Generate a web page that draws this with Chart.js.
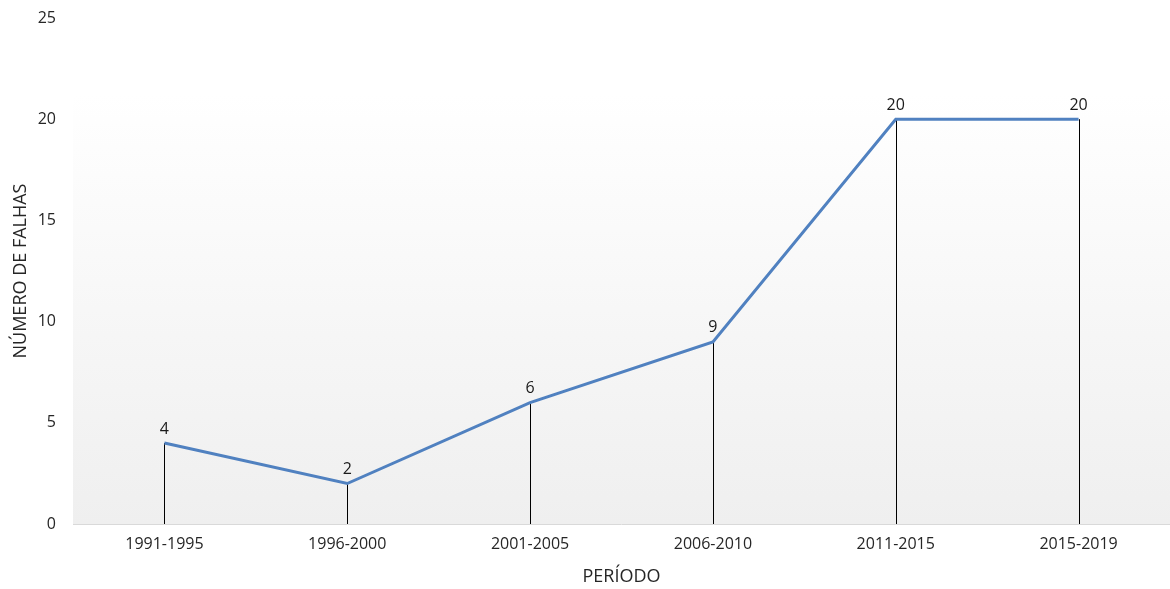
<!DOCTYPE html>
<html>
<head>
<meta charset="utf-8">
<script src="https://cdn.jsdelivr.net/npm/chart.js@4/dist/chart.umd.min.js"></script>
<style>
  html, body { margin: 0; padding: 0; background: #fff; }
  #wrap { width: 1170px; height: 589px; position: relative; }
</style>
</head>
<body>
<div id="wrap"><canvas id="c" width="1170" height="589"></canvas></div>
<script>
const periods = ['1991-1995', '1996-2000', '2001-2005', '2006-2010', '2011-2015', '2015-2019'];
const failures = [4, 2, 6, 9, 20, 20];
const yTicks = [0, 5, 10, 15, 20, 25];

const FONT = '"Open Sans", "DejaVu Sans", sans-serif';
const TEXT = '#262626';

// plot background: white fading to light grey towards the baseline
const areaGradient = {
  id: 'areaGradient',
  beforeDraw(chart) {
    const { ctx, chartArea: a } = chart;
    const g = ctx.createLinearGradient(0, a.top, 0, a.bottom);
    g.addColorStop(0, '#ffffff');
    g.addColorStop(0.15, '#ffffff');
    g.addColorStop(1, '#efefef');
    ctx.save();
    ctx.fillStyle = g;
    ctx.fillRect(a.left, a.top, a.right - a.left, a.bottom - a.top);
    ctx.restore();
  }
};

// vertical drop lines from each point to the axis
const dropLines = {
  id: 'dropLines',
  beforeDatasetsDraw(chart) {
    const { ctx, scales } = chart;
    const meta = chart.getDatasetMeta(0);
    const base = scales.y.getPixelForValue(0);
    ctx.save();
    ctx.strokeStyle = '#000000';
    ctx.lineWidth = 1;
    meta.data.forEach(pt => {
      const x = Math.round(pt.x) + 0.5;
      ctx.beginPath();
      ctx.moveTo(x, pt.y);
      ctx.lineTo(x, base);
      ctx.stroke();
    });
    ctx.restore();
  }
};

// value labels above each point
const valueLabels = {
  id: 'valueLabels',
  afterDatasetsDraw(chart) {
    const { ctx } = chart;
    const meta = chart.getDatasetMeta(0);
    const data = chart.data.datasets[0].data;
    ctx.save();
    ctx.fillStyle = '#1a1a1a';
    ctx.font = '16px ' + FONT;
    ctx.textAlign = 'center';
    ctx.textBaseline = 'bottom';
    meta.data.forEach((pt, i) => {
      ctx.fillText(String(data[i]), pt.x, pt.y - 6);
    });
    ctx.restore();
  }
};

new Chart(document.getElementById('c'), {
  type: 'line',
  data: {
    labels: periods,
    datasets: [{
      data: failures,
      borderColor: '#5081c0',
      borderWidth: 3,
      pointRadius: 0,
      tension: 0,
      fill: false
    }]
  },
  options: {
    responsive: false,
    animation: false,
    devicePixelRatio: 1,
    layout: { padding: { top: 18, right: 0, left: 0, bottom: 0 } },
    plugins: { legend: { display: false }, tooltip: { enabled: false } },
    scales: {
      x: {
        offset: true,
        grid: { display: false, drawTicks: false },
        border: { display: false },
        ticks: { color: TEXT, font: { family: FONT, size: 16 }, padding: 11, maxRotation: 0 },
        title: { display: true, text: 'PERÍODO', color: TEXT, font: { family: FONT, size: 18 }, padding: { top: 0, bottom: 1 } },
        afterFit(s) { s.height = 65; s.paddingLeft = 0; s.paddingRight = 0; }
      },
      y: {
        min: 0,
        max: 25,
        afterBuildTicks(s) { s.ticks = yTicks.map(v => ({ value: v })); },
        grid: {
          drawTicks: false,
          color: c => (c.tick && c.tick.value === 0) ? '#d9d9d9' : 'rgba(0,0,0,0)',
          lineWidth: 1
        },
        border: { display: false },
        ticks: { color: TEXT, font: { family: FONT, size: 16 }, padding: 17 },
        title: { display: true, text: 'NÚMERO DE FALHAS', color: TEXT, font: { family: FONT, size: 18 }, padding: { top: 10, bottom: 0 } },
        afterFit(s) { s.width = 73; s.paddingTop = 0; s.paddingBottom = 0; }
      }
    }
  },
  plugins: [areaGradient, dropLines, valueLabels]
});
</script>
</body>
</html>
